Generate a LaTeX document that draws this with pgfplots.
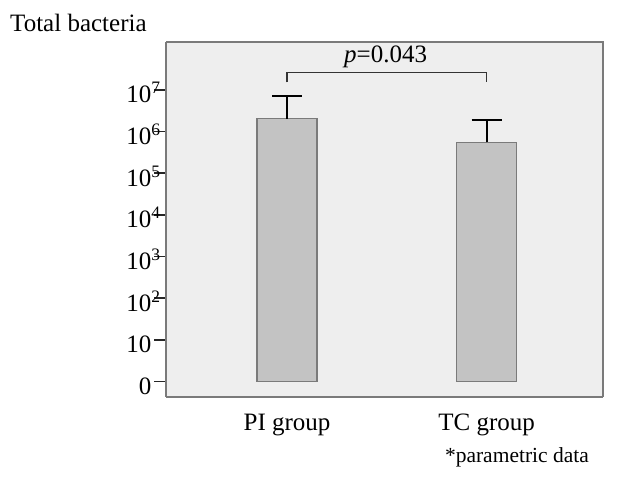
\documentclass[border=0pt]{standalone}
\usepackage{fontspec}
\setmainfont{Liberation Serif}
\usepackage{pgfplots}
\pgfplotsset{compat=1.18}

\definecolor{panel}{HTML}{EEEEEE}
\definecolor{barfill}{HTML}{C3C3C3}
\definecolor{barline}{HTML}{7A7A7A}
\definecolor{frame}{HTML}{7A7A7A}

\begin{document}
\begin{tikzpicture}
\begin{axis}[
  scale only axis,
  width=437pt, height=355pt,
  xmin=0.396, xmax=2.585,
  ymin=-0.37, ymax=8.15,
  axis background/.style={fill=panel},
  axis line style={frame, line width=2pt},
  clip=false,
  font=\fontsize{25}{29}\selectfont,
  tick label style={font=\fontsize{25}{29}\selectfont},
  xtick={1,2},
  xticklabels={PI group, TC group},
  xtick style={draw=none},
  xticklabel style={anchor=base, yshift=-22pt, inner sep=0pt},
  ytick={0,1,2,3,4,5,6,7},
  yticklabels={0, 10, 10\rlap{\textsuperscript{2}}, 10\rlap{\textsuperscript{3}},
    10\rlap{\textsuperscript{4}}, 10\rlap{\textsuperscript{5}},
    10\rlap{\textsuperscript{6}}, 10\rlap{\textsuperscript{7}}},
  tick align=outside,
  major tick length=12pt,
  ytick style={black!85, line width=1.5pt},
  yticklabel style={anchor=base east, inner sep=0pt, xshift=-3pt, yshift=-13pt},
  axis x line*=bottom, axis y line*=left,
  ybar, bar width=60pt,
]
% visible box on top and right
\draw[frame, line width=2pt] (rel axis cs:0,1) -- (rel axis cs:1,1) -- (rel axis cs:1,0);

\addplot[fill=barfill, draw=barline, line width=1.5pt,
  error bars/.cd, y dir=plus, y explicit,
  error bar style={black, line width=2pt},
  error mark options={black, line width=2pt, mark size=15pt, rotate=90}]
  coordinates {(1,6.31) +- (0,0.55) (2,5.74) +- (0,0.53)};

% significance bracket
\draw[black!80, line width=1.5pt] (axis cs:1,7.18) -- (axis cs:1,7.42) -- (axis cs:2,7.42) -- (axis cs:2,7.18);
\node[anchor=base, inner sep=0pt] at (axis cs:1.494,7.66) {\textit{p}=0.043};

\node[anchor=base west, inner sep=0pt] at (rel axis cs:-0.358,1.028) {Total bacteria};
\node[anchor=base west, inner sep=0pt, font=\fontsize{21.5}{25}\selectfont] at (rel axis cs:0.637,-0.185) {*parametric data};

\path (rel axis cs:-0.381,-0.2255) rectangle (rel axis cs:1.031,1.118);
\end{axis}
\end{tikzpicture}
\end{document}
